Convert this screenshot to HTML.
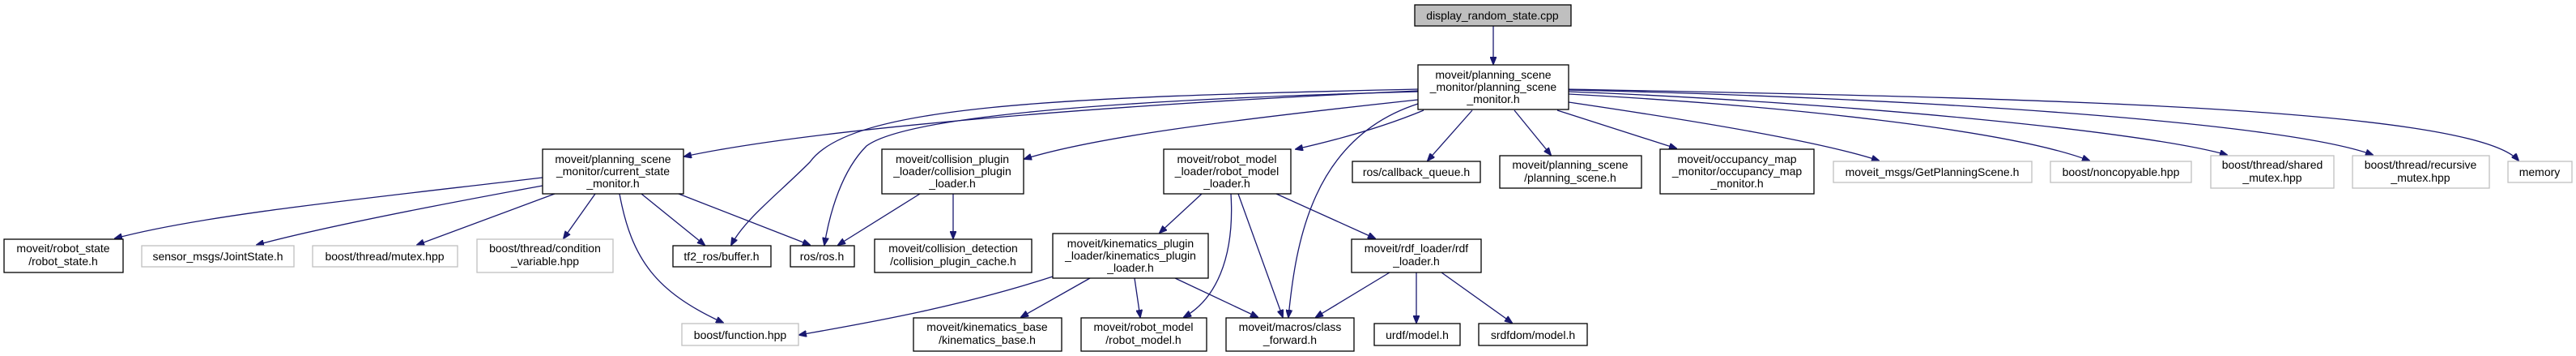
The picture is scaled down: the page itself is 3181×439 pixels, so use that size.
<!DOCTYPE html>
<html><head><meta charset="utf-8"><style>
html,body{margin:0;padding:0;background:#fff;}
svg{display:block;}
text{font-family:"Liberation Sans","DejaVu Sans",sans-serif;font-size:14px;fill:#000;text-anchor:middle;}
.b{fill:#fff;stroke:#000;stroke-width:1.3;}
.g{fill:#fff;stroke:#bfbfbf;stroke-width:1.3;}
.e{fill:none;stroke:#191970;stroke-width:1.3;marker-end:url(#a);}
</style></head><body>
<svg width="3181" height="439" viewBox="0 0 3181 439" xmlns="http://www.w3.org/2000/svg">
<defs><marker id="a" markerWidth="10" markerHeight="8" refX="9" refY="4" orient="auto" markerUnits="userSpaceOnUse"><path d="M0,0 L10,4 L0,8 Z" fill="#191970" stroke="#191970"/></marker></defs>

<path class="e" d="M1844,32 L1844,79"/>
<path class="e" d="M1751,112 C1350,130 1000,160 845,193"/>
<path class="e" d="M1751,110 C1300,120 1050,130 1000,200 C960,240 920,270 903,302"/>
<path class="e" d="M1751,113 C1300,125 1110,150 1070,180 C1040,210 1025,260 1018,302"/>
<path class="e" d="M1751,123 C1500,150 1350,170 1265,196"/>
<path class="e" d="M1758,136 C1700,160 1640,175 1600,184"/>
<path class="e" d="M1751,128 C1620,170 1600,300 1591,391"/>
<path class="e" d="M1818,136 L1763,198"/>
<path class="e" d="M1870,136 L1915,191"/>
<path class="e" d="M1923,136 L2070,183"/>
<path class="e" d="M1937,126 C2100,150 2250,175 2320,198"/>
<path class="e" d="M1937,116 C2200,130 2480,160 2580,198"/>
<path class="e" d="M1937,113 C2250,125 2640,160 2750,191"/>
<path class="e" d="M1937,111 C2350,120 2820,150 2930,191"/>
<path class="e" d="M1937,110 C2450,120 3050,130 3110,198"/>

<path class="e" d="M670,219 C450,245 250,265 142,294"/>
<path class="e" d="M670,229 C500,260 380,285 317,302"/>
<path class="e" d="M685,239 L515,302"/>
<path class="e" d="M735,239 L696,294"/>
<path class="e" d="M765,239 C780,320 810,360 893,398"/>
<path class="e" d="M792,239 L870,302"/>
<path class="e" d="M838,239 L1000,302"/>
<path class="e" d="M1136,239 L1035,302"/>
<path class="e" d="M1177,239 L1177,294"/>
<path class="e" d="M1484,239 L1432,287"/>
<path class="e" d="M1520,239 C1525,320 1500,370 1462,391"/>
<path class="e" d="M1529,239 L1584,391"/>
<path class="e" d="M1576,239 L1698,294"/>
<path class="e" d="M1300,341 C1180,380 1060,400 987,413"/>
<path class="e" d="M1346,343 L1261,391"/>
<path class="e" d="M1401,343 L1408,391"/>
<path class="e" d="M1451,343 L1553,391"/>
<path class="e" d="M1716,336 L1625,391"/>
<path class="e" d="M1749,336 L1749,398"/>
<path class="e" d="M1780,336 L1867,398"/>

<rect x="1747" y="6" width="193" height="26" fill="#bfbfbf" stroke="#000" stroke-width="1.3"/>
<text x="1843" y="24">display_random_state.cpp</text>

<rect class="b" x="1751" y="80" width="186" height="55"/>
<text x="1844" y="97">moveit/planning_scene</text><text x="1844" y="112">_monitor/planning_scene</text><text x="1844" y="127">_monitor.h</text>

<rect class="b" x="670" y="184" width="174" height="55"/>
<text x="757" y="201">moveit/planning_scene</text><text x="757" y="216">_monitor/current_state</text><text x="757" y="231">_monitor.h</text>

<rect class="b" x="1089" y="184" width="175" height="55"/>
<text x="1176" y="201">moveit/collision_plugin</text><text x="1176" y="216">_loader/collision_plugin</text><text x="1176" y="231">_loader.h</text>

<rect class="b" x="1437" y="184" width="157" height="55"/>
<text x="1515" y="201">moveit/robot_model</text><text x="1515" y="216">_loader/robot_model</text><text x="1515" y="231">_loader.h</text>

<rect class="b" x="1670" y="199" width="158" height="26"/>
<text x="1749" y="217">ros/callback_queue.h</text>

<rect class="b" x="1852" y="192" width="175" height="40"/>
<text x="1939" y="208">moveit/planning_scene</text><text x="1939" y="224">/planning_scene.h</text>

<rect class="b" x="2050" y="184" width="190" height="55"/>
<text x="2145" y="201">moveit/occupancy_map</text><text x="2145" y="216">_monitor/occupancy_map</text><text x="2145" y="231">_monitor.h</text>

<rect class="g" x="2264" y="199" width="245" height="26"/>
<text x="2386" y="217">moveit_msgs/GetPlanningScene.h</text>
<rect class="g" x="2532" y="199" width="174" height="26"/>
<text x="2619" y="217">boost/noncopyable.hpp</text>
<rect class="g" x="2730" y="192" width="152" height="40"/>
<text x="2806" y="208">boost/thread/shared</text><text x="2806" y="224">_mutex.hpp</text>
<rect class="g" x="2905" y="192" width="169" height="40"/>
<text x="2989" y="208">boost/thread/recursive</text><text x="2989" y="224">_mutex.hpp</text>
<rect class="g" x="3097" y="199" width="79" height="26"/>
<text x="3136" y="217">memory</text>

<rect class="b" x="5" y="295" width="147" height="41"/>
<text x="78" y="311">moveit/robot_state</text><text x="78" y="327">/robot_state.h</text>
<rect class="g" x="175" y="303" width="188" height="26"/>
<text x="269" y="321">sensor_msgs/JointState.h</text>
<rect class="g" x="386" y="303" width="179" height="26"/>
<text x="475" y="321">boost/thread/mutex.hpp</text>
<rect class="g" x="589" y="295" width="168" height="41"/>
<text x="673" y="311">boost/thread/condition</text><text x="673" y="327">_variable.hpp</text>
<rect class="b" x="831" y="303" width="121" height="26"/>
<text x="891" y="321">tf2_ros/buffer.h</text>
<rect class="b" x="976" y="303" width="79" height="26"/>
<text x="1015" y="321">ros/ros.h</text>
<rect class="b" x="1080" y="295" width="194" height="41"/>
<text x="1177" y="311">moveit/collision_detection</text><text x="1177" y="327">/collision_plugin_cache.h</text>
<rect class="b" x="1300" y="288" width="192" height="55"/>
<text x="1396" y="305">moveit/kinematics_plugin</text><text x="1396" y="320">_loader/kinematics_plugin</text><text x="1396" y="335">_loader.h</text>
<rect class="b" x="1669" y="295" width="160" height="41"/>
<text x="1749" y="311">moveit/rdf_loader/rdf</text><text x="1749" y="327">_loader.h</text>

<rect class="g" x="842" y="399" width="144" height="27"/>
<text x="914" y="418">boost/function.hpp</text>
<rect class="b" x="1128" y="392" width="183" height="41"/>
<text x="1219" y="408">moveit/kinematics_base</text><text x="1219" y="424">/kinematics_base.h</text>
<rect class="b" x="1335" y="392" width="155" height="41"/>
<text x="1412" y="408">moveit/robot_model</text><text x="1412" y="424">/robot_model.h</text>
<rect class="b" x="1514" y="392" width="158" height="41"/>
<text x="1593" y="408">moveit/macros/class</text><text x="1593" y="424">_forward.h</text>
<rect class="b" x="1697" y="399" width="106" height="27"/>
<text x="1750" y="418">urdf/model.h</text>
<rect class="b" x="1826" y="399" width="134" height="27"/>
<text x="1893" y="418">srdfdom/model.h</text>
</svg>
</body></html>
